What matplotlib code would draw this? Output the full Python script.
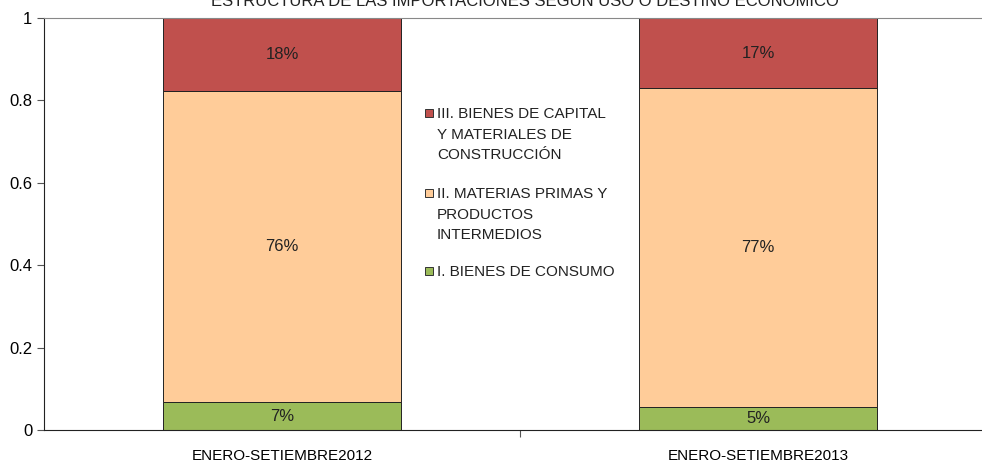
import matplotlib
matplotlib.use("Agg")
import matplotlib.pyplot as plt
from matplotlib.patches import Rectangle
import numpy as np

plt.rcParams["font.family"] = ["Liberation Sans Narrow", "Liberation Sans", "DejaVu Sans"]

periods = ["ENERO-SETIEMBRE2012", "ENERO-SETIEMBRE2013"]
consumo = [0.067, 0.057]
materias = [0.756, 0.773]
capital = [0.177, 0.170]
lbl_consumo = ["7%", "5%"]
lbl_materias = ["76%", "77%"]
lbl_capital = ["18%", "17%"]

series = [
    ("I. BIENES DE CONSUMO", consumo, lbl_consumo, "#9BBB59"),
    ("II. MATERIAS PRIMAS Y\nPRODUCTOS\nINTERMEDIOS", materias, lbl_materias, "#FFCC99"),
    ("III. BIENES DE CAPITAL\nY MATERIALES DE\nCONSTRUCCIÓN", capital, lbl_capital, "#C0504D"),
]

W, H = 982, 463
fig = plt.figure(figsize=(W / 100, H / 100), dpi=100)
ax = fig.add_axes([44 / W, 1 - 430 / H, 952 / W, 412 / H])

x = np.arange(len(periods))
bottom = np.zeros(len(periods))
for name, vals, lbls, col in series:
    ax.bar(x, vals, 0.5, bottom=bottom, color=col, edgecolor="#222222", linewidth=0.7)
    for xi, b, v, t in zip(x, bottom, vals, lbls):
        ax.text(xi, b + v / 2, t, ha="center", va="center", fontsize=12, color="#222222")
    bottom += np.array(vals)

ax.set_xlim(-0.5, 1.5)
ax.set_ylim(0, 1)
ax.set_yticks([0, 0.2, 0.4, 0.6, 0.8, 1])
ax.set_yticklabels(["0", "0.2", "0.4", "0.6", "0.8", "1"])
ax.set_xticks([0.5])
ax.set_xticklabels([""])
ax.set_xticks(x, minor=True)
ax.set_xticklabels(periods, minor=True)
ax.tick_params(axis="x", which="minor", length=0, pad=14, labelsize=11)
ax.tick_params(axis="x", which="major", length=5, color="#555555")
ax.tick_params(axis="y", length=5, labelsize=12, color="#555555")

ax.spines["right"].set_visible(False)
ax.spines["top"].set_color("#888888")
ax.spines["left"].set_color("#222222")
ax.spines["bottom"].set_color("#222222")

# legend, drawn by hand so the squares sit on the first line of each entry
leg_y = [113, 193, 271]  # first-line centres, px from top
for (name, vals, lbls, col), yy in zip(series[::-1], leg_y):
    fig.text(437 / W, 1 - (yy - 6) / H, name, ha="left", va="top",
             fontsize=11, linespacing=1.6, color="#222222")
    fig.patches.append(Rectangle((425 / W, 1 - (yy + 4) / H), 8 / W, 8 / H,
                                 transform=fig.transFigure, facecolor=col,
                                 edgecolor="#333333", linewidth=0.7))

fig.text(0.535, 1 - 1 / H, "ESTRUCTURA DE LAS IMPORTACIONES SEGÚN USO O DESTINO ECONÓMICO",
         ha="center", va="center", fontsize=12, color="#222222")

fig.savefig("out.png", dpi=100)
